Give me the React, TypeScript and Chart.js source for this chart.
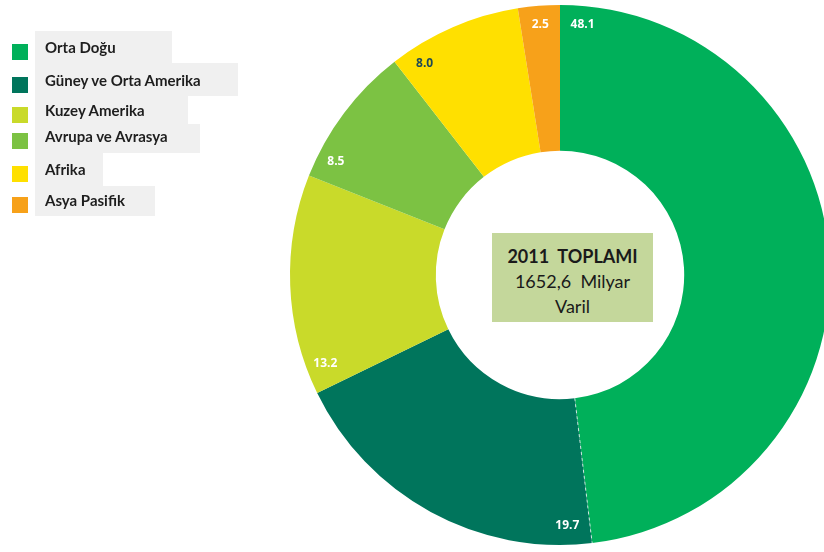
import React, { useEffect, useRef } from "react";
import { Chart, registerables } from "chart.js";

Chart.register(...registerables);

const categories = [
  "Orta Doğu",
  "Güney ve Orta Amerika",
  "Kuzey Amerika",
  "Avrupa ve Avrasya",
  "Afrika",
  "Asya Pasifik",
];
const shares = [48.1, 19.7, 13.2, 8.5, 8.0, 2.5];
const valueLabels = ["48.1", "19.7", "13.2", "8.5", "8.0", "2.5"];
const colors = ["#00b05a", "#00755c", "#c9da2a", "#7cc243", "#ffe000", "#f7a11a"];
const labelColors = ["#ffffff", "#ffffff", "#ffffff", "#ffffff", "#1f4a55", "#ffffff"];
const centerLines = ["2011  TOPLAMI", "1652,6  Milyar", "Varil"];

// legend layout (text row centre y, grey box right edge, box top/bottom)
const legendRowY = [48, 81, 111, 137, 170, 201];
const legendBoxRight = [172, 238, 188, 200, 103, 155];
const legendBoxTop = [31, 63, 96, 124, 153, 186];
const legendBoxBottom = [63, 96, 124, 153, 186, 216];

const sliceLabelPlugin = {
  id: "sliceLabels",
  afterDatasetsDraw(chart: any) {
    const ctx = chart.ctx;
    const meta = chart.getDatasetMeta(0);
    ctx.save();
    // dashed separator between first and second slice
    const first = meta.data[0];
    if (first) {
      const a = first.endAngle;
      ctx.strokeStyle = "rgba(255,255,255,0.75)";
      ctx.lineWidth = 1;
      ctx.setLineDash([3, 3]);
      ctx.beginPath();
      ctx.moveTo(first.x + first.innerRadius * Math.cos(a), first.y + first.innerRadius * Math.sin(a));
      ctx.lineTo(first.x + first.outerRadius * Math.cos(a), first.y + first.outerRadius * Math.sin(a));
      ctx.stroke();
      ctx.setLineDash([]);
    }
    ctx.font = "bold 12px 'Open Sans', sans-serif";
    ctx.textAlign = "center";
    ctx.textBaseline = "middle";
    meta.data.forEach((arc: any, i: number) => {
      const span = arc.endAngle - arc.startAngle;
      const a = arc.startAngle + Math.min(0.09, span / 2);
      const r = arc.outerRadius - 19;
      const x = arc.x + r * Math.cos(a);
      const y = arc.y + r * Math.sin(a);
      ctx.fillStyle = labelColors[i];
      ctx.fillText(valueLabels[i], x, y);
    });
    ctx.restore();
  },
};

export default function App() {
  const ref = useRef<HTMLCanvasElement>(null);
  useEffect(() => {
    if (!ref.current) return;
    const chart = new Chart(ref.current, {
      type: "doughnut",
      data: {
        labels: categories,
        datasets: [
          {
            data: shares,
            backgroundColor: colors,
            borderWidth: 0,
          },
        ],
      },
      options: {
        responsive: false,
        animation: false,
        cutout: "46%",
        layout: { padding: { left: 290, right: 10, top: 5, bottom: 7 } },
        plugins: {
          legend: { display: false },
          tooltip: { enabled: false },
        },
      },
      plugins: [sliceLabelPlugin],
    });
    return () => chart.destroy();
  }, []);

  return (
    <div
      style={{
        position: "fixed",
        left: 0,
        top: 0,
        width: 824,
        height: 552,
        overflow: "hidden",
        background: "#ffffff",
      }}
    >
      <canvas ref={ref} width={840} height={552} style={{ position: "absolute", left: 0, top: 0 }} />
      {categories.map((c, i) => (
        <React.Fragment key={c}>
          <div
            style={{
              position: "absolute",
              left: 35,
              top: legendBoxTop[i],
              width: legendBoxRight[i] - 35,
              height: legendBoxBottom[i] - legendBoxTop[i],
              background: "#f0f0f0",
            }}
          />
          <div
            style={{
              position: "absolute",
              left: 12,
              top: legendRowY[i] - 8 + 4,
              width: 16,
              height: 16,
              background: colors[i],
            }}
          />
          <div
            style={{
              position: "absolute",
              left: 45,
              top: legendRowY[i] - 10,
              height: 20,
              lineHeight: "20px",
              font: "bold 15px Lato, sans-serif",
              color: "#1e1e1e",
              whiteSpace: "nowrap",
            }}
          >
            {c}
          </div>
        </React.Fragment>
      ))}
      <div
        style={{
          position: "absolute",
          left: 492,
          top: 233,
          width: 161,
          height: 89,
          background: "#c4d79b",
          boxSizing: "border-box",
          paddingTop: 8,
          display: "flex",
          flexDirection: "column",
          justifyContent: "center",
          alignItems: "center",
          font: "18px Lato, sans-serif",
          color: "#1a1a1a",
          lineHeight: "25px",
          whiteSpace: "pre",
        }}
      >
        <div style={{ fontWeight: "bold" }}>{centerLines[0]}</div>
        <div>{centerLines[1]}</div>
        <div>{centerLines[2]}</div>
      </div>
    </div>
  );
}
